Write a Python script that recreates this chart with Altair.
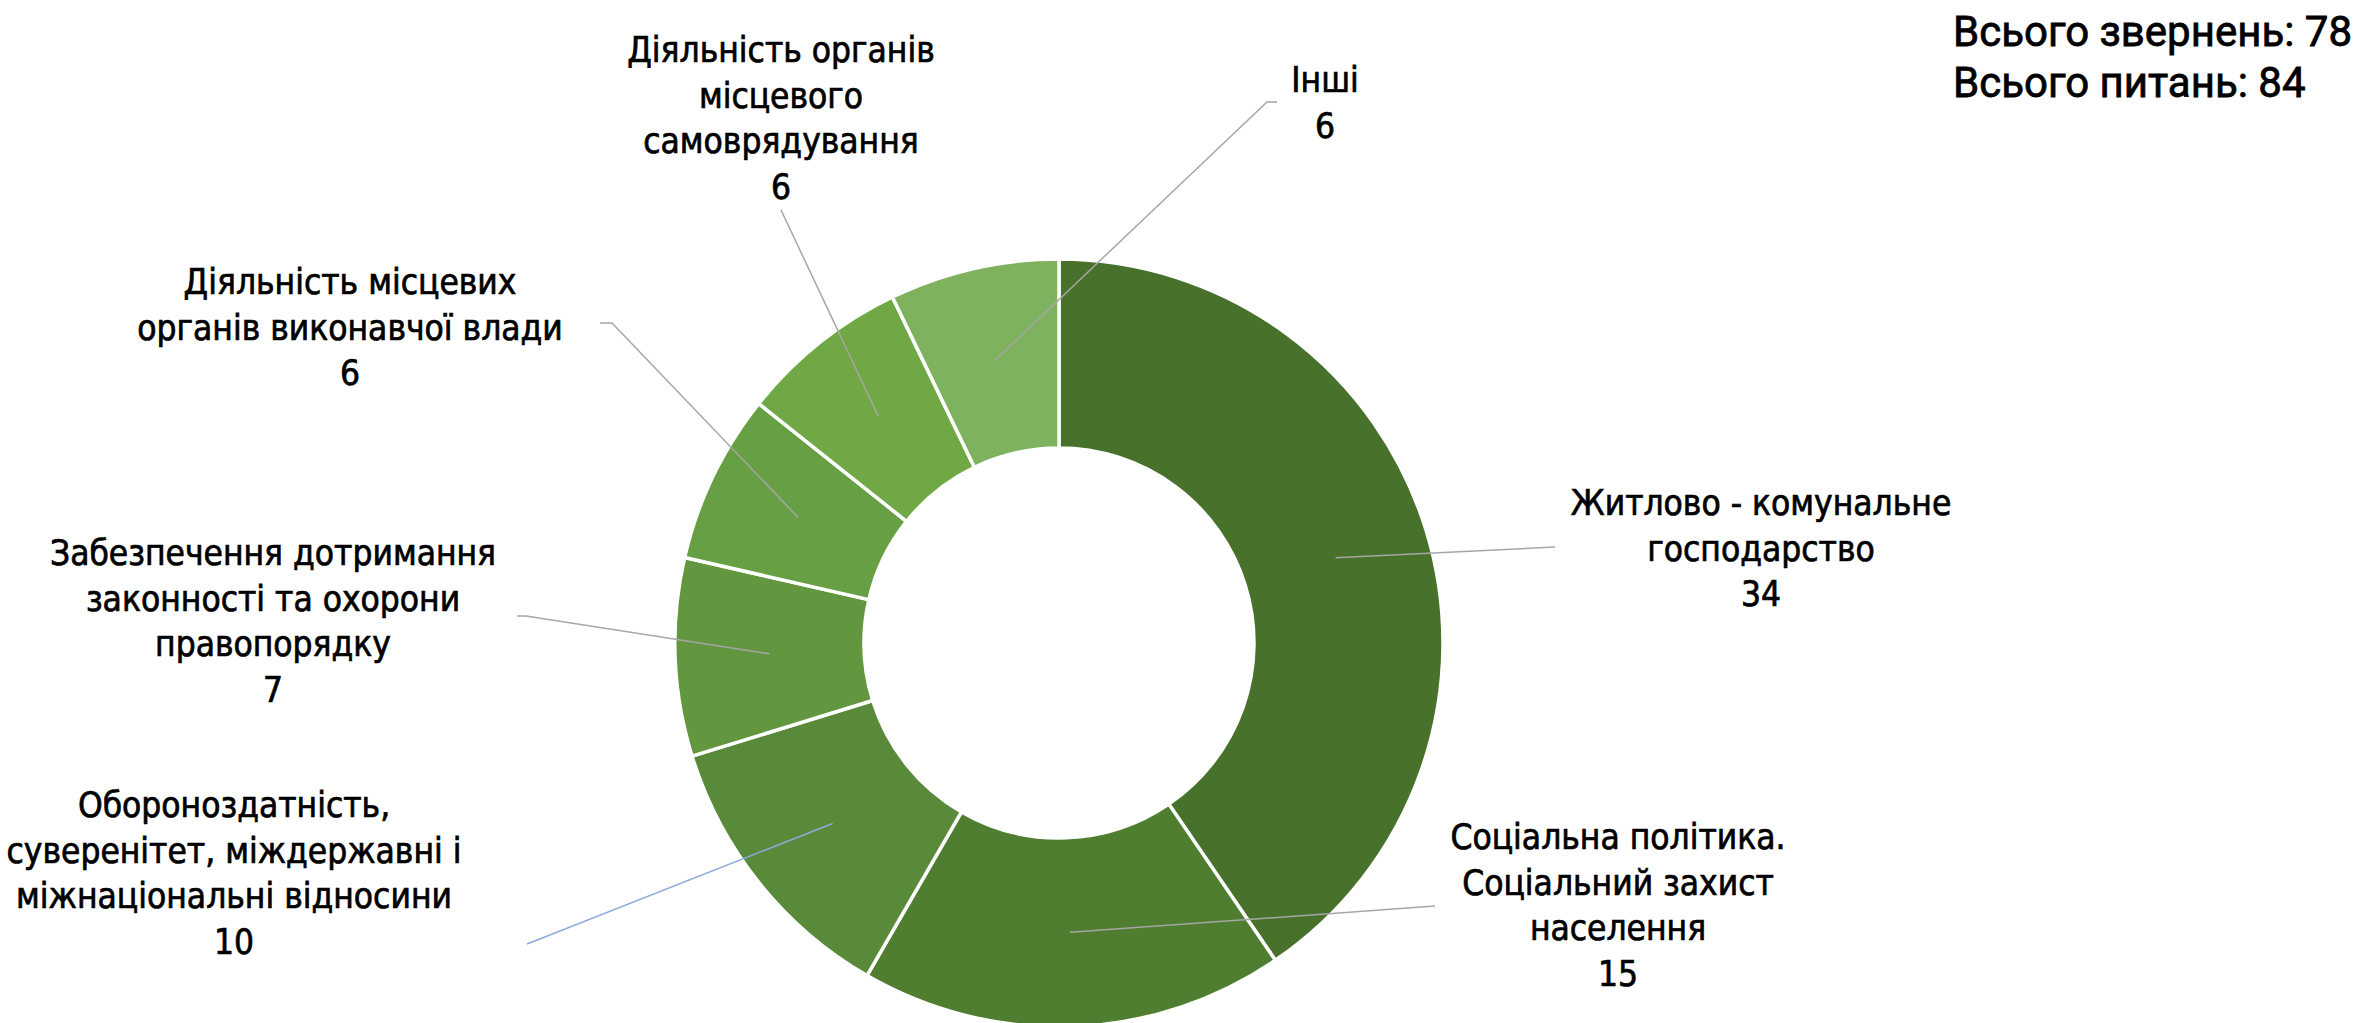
import math
import altair as alt
import pandas as pd

# ---- data ----
categories = [
    "Житлово - комунальне господарство",
    "Соціальна політика. Соціальний захист населення",
    "Обороноздатність, суверенітет, міждержавні і міжнаціональні відносини",
    "Забезпечення дотримання законності та охорони правопорядку",
    "Діяльність місцевих органів виконавчої влади",
    "Діяльність органів місцевого самоврядування",
    "Інші",
]
values = [34, 15, 10, 7, 6, 6, 6]
label_lines = [
    ["Житлово - комунальне", "господарство"],
    ["Соціальна політика.", "Соціальний захист", "населення"],
    ["Обороноздатність,", "суверенітет, міждержавні і", "міжнаціональні відносини"],
    ["Забезпечення дотримання", "законності та охорони", "правопорядку"],
    ["Діяльність місцевих", "органів виконавчої влади"],
    ["Діяльність органів", "місцевого", "самоврядування"],
    ["Інші"],
]
header_lines = ["Всього звернень: 78", "Всього питань: 84"]

# ---- style / layout ----
colors = ["#48722C", "#4F7E31", "#598A3A", "#62973F", "#67A044", "#6FA844", "#7FB25E"]
W, H = 2356, 1023
CX, CY = 1059, 643
R_OUT, R_IN = 384, 195
R_MID = (R_OUT + R_IN) / 2
# label first-line centres (pixels)
label_pos = [(1761, 504), (1618, 838), (234, 806), (273, 554), (350, 283), (781, 51), (1325, 81)]
# leader line waypoints after the start point (pixels)
leader_pts = [
    [(1555, 547)],
    [(1435, 906)],
    [(527, 944)],
    [(526, 616), (517, 616)],
    [(612, 323), (600, 323)],
    [(781, 210)],
    [(1267, 102), (1277, 102)],
]
leader_colors = ["#A6A6A6", "#A6A6A6", "#8EA9DB", "#A6A6A6", "#A6A6A6", "#A6A6A6", "#A6A6A6"]

total = sum(values)
arc_df = pd.DataFrame({"category": categories, "value": values, "order": list(range(len(values)))})

# label text
text_rows = []
for i, cat in enumerate(categories):
    lines = label_lines[i] + [str(values[i])]
    text_rows.append({"category": cat, "txt": "\n".join(lines), "x": label_pos[i][0], "y": label_pos[i][1]})
text_df = pd.DataFrame(text_rows)

# leader lines: start at mid-angle of each slice, ring mid radius
line_rows = []
cum = 0
for i, cat in enumerate(categories):
    mid = (cum + values[i] / 2) / total * 2 * math.pi
    cum += values[i]
    sx = CX + R_MID * math.sin(mid)
    sy = CY - R_MID * math.cos(mid)
    pts = [(sx, sy)] + leader_pts[i]
    for k, (px, py) in enumerate(pts):
        line_rows.append({"category": cat, "k": k, "x": px, "y": py, "lc": leader_colors[i]})
line_df = pd.DataFrame(line_rows)

header_df = pd.DataFrame({"txt": header_lines, "x": [1953, 1953], "y": [33, 84]})

FONT = "DejaVu Sans Condensed"

arcs = alt.Chart(arc_df).mark_arc(
    innerRadius=R_IN, outerRadius=R_OUT, stroke="white", strokeWidth=3.5
).encode(
    theta=alt.Theta("value:Q", stack=True),
    order=alt.Order("order:Q"),
    color=alt.Color("category:N", scale=alt.Scale(domain=categories, range=colors), legend=None),
    x=alt.value(CX),
    y=alt.value(CY),
)

leaders = alt.Chart(line_df).mark_line(strokeWidth=1.5).encode(
    x=alt.X("x:Q", scale=None, axis=None),
    y=alt.Y("y:Q", scale=None, axis=None),
    detail="category:N",
    order="k:Q",
    color=alt.Color("lc:N", scale=None),
)

labels = alt.Chart(text_df).mark_text(
    font=FONT, fontSize=35, lineBreak="\n", lineHeight=45.5,
    align="center", baseline="middle", color="black",
    stroke="black", strokeWidth=0.7
).encode(
    x=alt.X("x:Q", scale=None, axis=None),
    y=alt.Y("y:Q", scale=None, axis=None),
    text="txt:N",
)

header = alt.Chart(header_df).mark_text(
    font="Roboto", fontSize=42, align="left", baseline="middle", color="black",
    stroke="black", strokeWidth=0.8
).encode(
    x=alt.X("x:Q", scale=None, axis=None),
    y=alt.Y("y:Q", scale=None, axis=None),
    text="txt:N",
)

chart = alt.layer(arcs, leaders, labels, header).properties(
    width=W, height=H, autosize=alt.AutoSizeParams(type="none"), padding=0,
    background="white",
).configure_view(stroke=None)

chart.save("out.html", embed_options={"renderer": "svg", "actions": False})
